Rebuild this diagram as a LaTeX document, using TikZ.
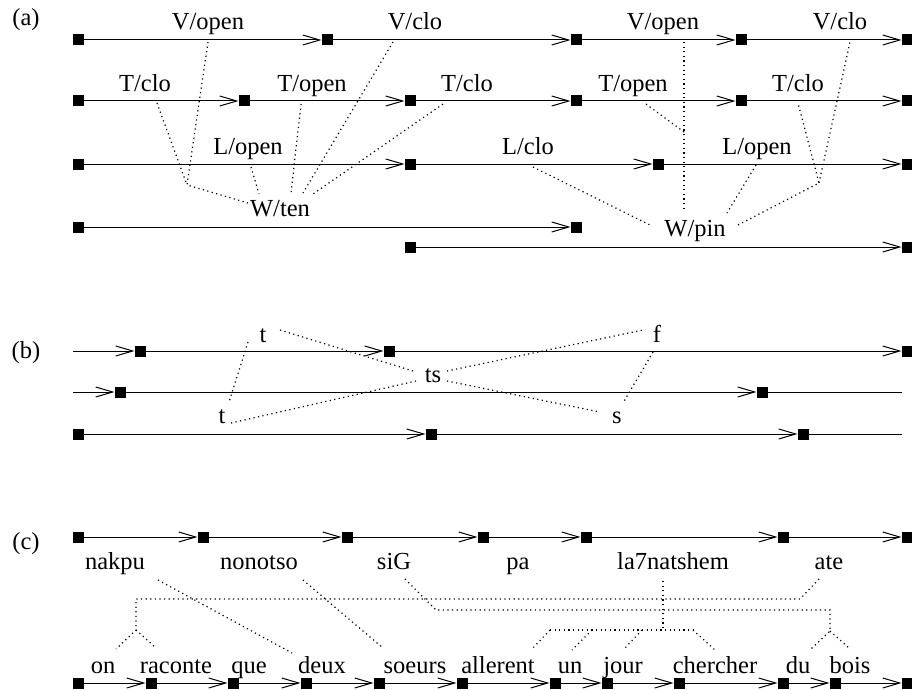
\documentclass[tikz,border=0pt]{standalone}
\usepackage{fontspec}
\setmainfont{Liberation Serif}
\usetikzlibrary{arrows.meta}
\begin{document}
\begin{tikzpicture}[x=1pt,y=-1pt,
  sq/.style={fill=black,minimum size=11pt,inner sep=0pt,outer sep=0pt},
  lab/.style={anchor=base,inner sep=0pt,font=\fontsize{24.5}{28}\selectfont},
  arr/.style={line width=1pt,-{Straight Barb[length=17pt,width=10pt,line width=1pt]}},
  ln/.style={line width=1pt},
  lk/.style={line width=1.2pt,dash pattern=on 1.2pt off 3.4pt}]
\useasboundingbox (0,0) rectangle (912,690);
% panel labels
\node[lab] (pa) at (26,26) {(a)};
\node[lab] (pb) at (26,358) {(b)};
\node[lab] (pc) at (26,549) {(c)};
% ---------------- (a) ----------------
\node[sq] (a11) at (78,40) {};
\node[sq] (a12) at (327,40) {};
\node[sq] (a13) at (576,40) {};
\node[sq] (a14) at (741,40) {};
\node[sq] (a15) at (907,40) {};
\draw[arr] (a11) -- (a12); \draw[arr] (a12) -- (a13);
\draw[arr] (a13) -- (a14); \draw[arr] (a14) -- (a15);
\node[sq] (a21) at (78,101) {};
\node[sq] (a22) at (244,101) {};
\node[sq] (a23) at (410,101) {};
\node[sq] (a24) at (576,101) {};
\node[sq] (a25) at (741,101) {};
\node[sq] (a26) at (907,101) {};
\draw[arr] (a21) -- (a22); \draw[arr] (a22) -- (a23); \draw[arr] (a23) -- (a24);
\draw[arr] (a24) -- (a25); \draw[arr] (a25) -- (a26);
\node[sq] (a31) at (78,164) {};
\node[sq] (a32) at (410,164) {};
\node[sq] (a33) at (658,164) {};
\node[sq] (a34) at (907,164) {};
\draw[arr] (a31) -- (a32); \draw[arr] (a32) -- (a33); \draw[arr] (a33) -- (a34);
\node[sq] (a41) at (78,227) {};
\node[sq] (a42) at (576,227) {};
\draw[arr] (a41) -- (a42);
\node[sq] (a51) at (410,247) {};
\node[sq] (a52) at (907,247) {};
\draw[arr] (a51) -- (a52);
% labels
\node[lab] (vo1) at (208,30) {V/open};
\node[lab] (vc1) at (415,30) {V/clo};
\node[lab] (vo2) at (663,30) {V/open};
\node[lab] (vc2) at (840,30) {V/clo};
\node[lab] (tc1) at (145,92) {T/clo};
\node[lab] (to1) at (312,92) {T/open};
\node[lab] (tc2) at (467,92) {T/clo};
\node[lab] (to2) at (633,92) {T/open};
\node[lab] (tc3) at (798,92) {T/clo};
\node[lab] (lo1) at (248,154) {L/open};
\node[lab] (lc1) at (528,154) {L/clo};
\node[lab] (lo2) at (757,154) {L/open};
\node[lab] (wten) at (280,216) {W/ten};
\node[lab] (wpin) at (695,236) {W/pin};
% link points
\coordinate (pvo1) at (208,42);
\coordinate (ptc1) at (157,103);
\coordinate (jt) at (187,185);
\coordinate (wt1) at (248,203);
\coordinate (plo1) at (251,167);
\coordinate (wt2) at (259,194);
\coordinate (pto1) at (301,104);
\coordinate (wt3) at (291,193);
\coordinate (pvc1) at (393,42);
\coordinate (wt4) at (303,193);
\coordinate (ptc2) at (443,104);
\coordinate (wt5) at (313,194);
\coordinate (plc1) at (533,167);
\coordinate (wp1) at (652,226);
\coordinate (pvo2) at (684,42);
\coordinate (wp2) at (684,212);
\coordinate (pto2) at (646,104);
\coordinate (jv) at (684,132);
\coordinate (plo2) at (756,165);
\coordinate (wp3) at (727,213);
\coordinate (wp4) at (738,225);
\coordinate (jp) at (819,183);
\coordinate (ptc3) at (798,103);
\coordinate (pvc2) at (850,42);
\draw[lk] (pvo1) -- (jt) -- (wt1);
\draw[lk] (ptc1) -- (jt);
\draw[lk] (plo1) -- (wt2);
\draw[lk] (pto1) -- (wt3);
\draw[lk] (pvc1) -- (wt4);
\draw[lk] (ptc2) -- (wt5);
\draw[lk] (plc1) -- (wp1);
\draw[lk] (pvo2) -- (wp2);
\draw[lk] (pto2) -- (jv);
\draw[lk] (plo2) -- (wp3);
\draw[lk] (wp4) -- (jp) -- (ptc3);
\draw[lk] (jp) -- (pvc2);
% ---------------- (b) ----------------
\coordinate (b10) at (73,351);
\node[sq] (b11) at (140,351) {};
\node[sq] (b12) at (389,351) {};
\node[sq] (b13) at (907,351) {};
\draw[arr] (b10) -- (b11); \draw[arr] (b11) -- (b12); \draw[arr] (b12) -- (b13);
\coordinate (b20) at (73,392);
\node[sq] (b21) at (120,392) {};
\node[sq] (b22) at (762,392) {};
\coordinate (b23) at (902,392);
\draw[arr] (b20) -- (b21); \draw[arr] (b21) -- (b22); \draw[ln] (b22) -- (b23);
\node[sq] (b31) at (78,434) {};
\node[sq] (b32) at (431,434) {};
\node[sq] (b33) at (803,434) {};
\coordinate (b34) at (902,434);
\draw[arr] (b31) -- (b32); \draw[arr] (b32) -- (b33); \draw[ln] (b33) -- (b34);
\node[lab] (tt) at (263,342) {t};
\node[lab] (tb) at (222,423) {t};
\node[lab] (ts) at (433,382) {ts};
\node[lab] (ff) at (657,342) {f};
\node[lab] (ss) at (617,423) {s};
\coordinate (q1) at (280,330); \coordinate (q2) at (413,371);
\coordinate (q3) at (248,342); \coordinate (q4) at (229,402);
\coordinate (q5) at (231,423); \coordinate (q6) at (416,381);
\coordinate (q7) at (447,371); \coordinate (q8) at (643,330);
\coordinate (q9) at (447,381); \coordinate (q10) at (600,412);
\coordinate (q11) at (653,352); \coordinate (q12) at (623,403);
\draw[lk] (q1) -- (q2);
\draw[lk] (q3) -- (q4);
\draw[lk] (q5) -- (q6);
\draw[lk] (q7) -- (q8);
\draw[lk] (q9) -- (q10);
\draw[lk] (q11) -- (q12);
% ---------------- (c) ----------------
\node[sq] (c11) at (78,537) {};
\node[sq] (c12) at (203,537) {};
\node[sq] (c13) at (347,537) {};
\node[sq] (c14) at (483,537) {};
\node[sq] (c15) at (586,537) {};
\node[sq] (c16) at (783,537) {};
\node[sq] (c17) at (907,537) {};
\draw[arr] (c11) -- (c12); \draw[arr] (c12) -- (c13); \draw[arr] (c13) -- (c14);
\draw[arr] (c14) -- (c15); \draw[arr] (c15) -- (c16); \draw[arr] (c16) -- (c17);
\node[sq] (c21) at (78,683) {};
\node[sq] (c22) at (151,683) {};
\node[sq] (c23) at (233,683) {};
\node[sq] (c24) at (306,683) {};
\node[sq] (c25) at (379,683) {};
\node[sq] (c26) at (462,683) {};
\node[sq] (c27) at (555,683) {};
\node[sq] (c28) at (607,683) {};
\node[sq] (c29) at (679,683) {};
\node[sq] (c210) at (783,683) {};
\node[sq] (c211) at (835,683) {};
\node[sq] (c212) at (907,683) {};
\draw[arr] (c21) -- (c22); \draw[arr] (c22) -- (c23); \draw[arr] (c23) -- (c24);
\draw[arr] (c24) -- (c25); \draw[arr] (c25) -- (c26); \draw[arr] (c26) -- (c27);
\draw[arr] (c27) -- (c28); \draw[arr] (c28) -- (c29); \draw[arr] (c29) -- (c210);
\draw[arr] (c210) -- (c211); \draw[arr] (c211) -- (c212);
\node[lab] (nakpu) at (115,569) {nakpu};
\node[lab] (nonotso) at (259,569) {nonotso};
\node[lab] (siG) at (394,569) {siG};
\node[lab] (wpa) at (518,569) {pa};
\node[lab] (la7) at (673,569) {la7natshem};
\node[lab] (ate) at (829,569) {ate};
\node[lab] (on) at (103,673) {on};
\node[lab] (raconte) at (176,673) {raconte};
\node[lab] (que) at (249,673) {que};
\node[lab] (deux) at (322,673) {deux};
\node[lab] (soeurs) at (415,673) {soeurs};
\node[lab] (allerent) at (498,673) {allerent};
\node[lab] (un) at (570,673) {un};
\node[lab] (jour) at (623,673) {jour};
\node[lab] (chercher) at (715,673) {chercher};
\node[lab] (du) at (798,673) {du};
\node[lab] (bois) at (850,673) {bois};
\coordinate (k1) at (158,580); \coordinate (k2) at (292,653);
\coordinate (k3) at (303,580); \coordinate (k4) at (383,648);
\coordinate (k5) at (405,579); \coordinate (k6) at (436,610);
\coordinate (k7) at (830,610); \coordinate (k8) at (830,631);
\coordinate (k9) at (811,649); \coordinate (k10) at (850,649);
\coordinate (m1) at (819,579); \coordinate (m2) at (800,599);
\coordinate (m3) at (136,599); \coordinate (m4) at (136,630);
\coordinate (m5) at (116,649); \coordinate (m6) at (156,648);
\coordinate (n1) at (663,581); \coordinate (n2) at (663,630);
\coordinate (n3) at (550,630); \coordinate (n4) at (693,630);
\coordinate (n5) at (531,650); \coordinate (n6) at (592,630);
\coordinate (n7) at (572,650); \coordinate (n8) at (642,630);
\coordinate (n9) at (624,649); \coordinate (n10) at (715,650);
\draw[lk] (k1) -- (k2);
\draw[lk] (k3) -- (k4);
\draw[lk] (k5) -- (k6) -- (k7) -- (k8) -- (k9);
\draw[lk] (k8) -- (k10);
\draw[lk] (m1) -- (m2) -- (m3) -- (m4) -- (m5);
\draw[lk] (m4) -- (m6);
\draw[lk] (n1) -- (n2);
\draw[lk] (n3) -- (n4);
\draw[lk] (n3) -- (n5);
\draw[lk] (n6) -- (n7);
\draw[lk] (n8) -- (n9);
\draw[lk] (n4) -- (n10);
\end{tikzpicture}
\end{document}
